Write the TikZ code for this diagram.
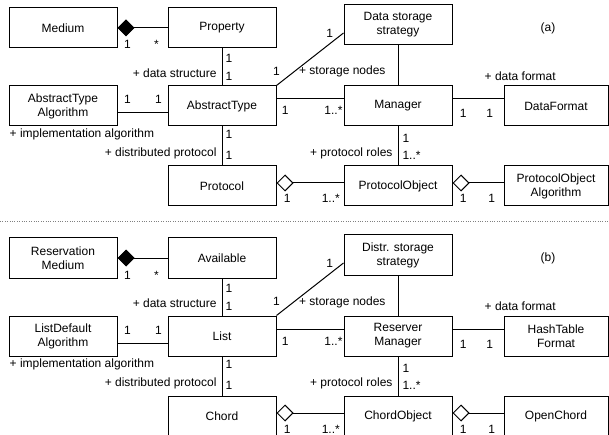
\documentclass[tikz,border=0pt]{standalone}
\usepackage{fontspec}
\setmainfont{Liberation Sans}
\usepackage{tikz}
\usetikzlibrary{arrows.meta}

\tikzset{
  cls/.style={draw, line width=1pt, minimum width=108pt, minimum height=40pt, align=center, inner sep=1pt},
  clsr/.style={cls, minimum width=104pt},
  assoc/.style={line width=1pt},
  comp/.style={assoc, {Diamond[length=17pt,width=17pt]}-},
  aggr/.style={assoc, {Diamond[open,length=17pt,width=17pt]}-},
  mult/.style={inner sep=0pt, text height=9pt, text depth=0pt},
  role/.style={inner sep=0pt},
}

\begin{document}
\begin{tikzpicture}[x=1pt, y=-1pt, font=\fontsize{12}{14}\selectfont]
\useasboundingbox (0,0) rectangle (609,435);
\clip (0,0) rectangle (609,435);

% part (a)
\node[cls] (medium-a) at (63,28) {Medium};
\node[cls] (property-a) at (222,28) {Property};
\node[cls] (storage-a) at (398,25) {Data storage\\strategy};
\node[cls] (algo-a) at (63,106) {AbstractType\\Algorithm};
\node[cls] (type-a) at (222,106) {AbstractType};
\node[cls] (manager-a) at (398,106) {Manager};
\node[clsr] (format-a) at (556,106) {DataFormat};
\node[cls] (protocol-a) at (222,186) {Protocol};
\node[cls] (pobject-a) at (398,186) {ProtocolObject};
\node[clsr] (palgo-a) at (556,186) {ProtocolObject\\Algorithm};
\node (tag-a) at (548,28) {(a)};

\draw[comp] (medium-a.east) -- (property-a.west)
  node[mult, pos=0.2, below=11.5pt] {1} node[mult, pos=0.78, below=11.5pt] {*};
\draw[assoc] (property-a.south) -- (type-a.north)
  node[mult, pos=0.26, right=3pt] {1} node[mult, pos=0.74, right=3pt] {1}
  node[role, pos=0.66, left=5pt] {+ data structure};
\draw[assoc] ([yshift=-7pt]algo-a.east) -- ([yshift=-7pt]type-a.west)
  node[mult, pos=0.2, above=8.5pt] {1} node[mult, pos=0.82, above=8.5pt] {1};
\node[role, anchor=west] (impl-a) at ([shift={(1pt,-8pt)}]algo-a.south west) {+ implementation algorithm};
\draw[assoc] ([yshift=7pt]type-a.east) -- ([yshift=7pt]manager-a.west)
  node[mult, pos=0.13, below=6.5pt] {1} node[mult, pos=0.85, below=6.5pt] {1..*};
\draw[assoc] (type-a.north east) -- ([yshift=-8pt]storage-a.west)
  node[mult, pos=0, above=9.5pt] {1} node[mult, pos=1, left=10pt] {1};
\draw[assoc] (storage-a.south) -- (manager-a.north)
  node[role, pos=0.66, left=12pt] {+ storage nodes};
\draw[assoc] ([yshift=7pt]manager-a.east) -- ([yshift=7pt]format-a.west)
  node[mult, pos=0.21, below=9.5pt] {1} node[mult, pos=0.73, below=9.5pt] {1};
\node[role, anchor=west] (dfrole-a) at ([shift={(-19pt,9pt)}]format-a.north west) {+ data format};
\draw[assoc] (type-a.south) -- (protocol-a.north)
  node[mult, pos=0.2, right=3pt] {1} node[mult, pos=0.72, right=3pt] {1}
  node[role, pos=0.68, left=5pt] {+ distributed protocol};
\draw[assoc] (manager-a.south) -- (pobject-a.north)
  node[mult, pos=0.3, right=4pt] {1} node[mult, pos=0.72, right=4pt] {1..*}
  node[role, pos=0.7, left=5pt] {+ protocol roles};
\draw[aggr] ([yshift=3pt]protocol-a.east) -- ([yshift=3pt]pobject-a.west)
  node[mult, pos=0.16, below=10.5pt] {1} node[mult, pos=0.81, below=10.5pt] {1..*};
\draw[aggr] ([yshift=3pt]pobject-a.east) -- ([yshift=3pt]palgo-a.west)
  node[mult, pos=0.21, below=10.5pt] {1} node[mult, pos=0.77, below=10.5pt] {1};

\draw[dotted, gray] (0,221) -- (609,221);

% part (b)
\begin{scope}[yshift=-230pt]
\node[cls] (medium-b) at (63,28) {Reservation\\Medium};
\node[cls] (property-b) at (222,28) {Available};
\node[cls] (storage-b) at (398,25) {Distr. storage\\strategy};
\node[cls] (algo-b) at (63,106) {ListDefault\\Algorithm};
\node[cls] (type-b) at (222,106) {List};
\node[cls] (manager-b) at (398,106) {Reserver\\Manager};
\node[clsr] (format-b) at (556,106) {HashTable\\Format};
\node[cls] (protocol-b) at (222,186) {Chord};
\node[cls] (pobject-b) at (398,186) {ChordObject};
\node[clsr] (palgo-b) at (556,186) {OpenChord};
\node (tag-b) at (548,28) {(b)};
\end{scope}

\draw[comp] (medium-b.east) -- (property-b.west)
  node[mult, pos=0.2, below=11.5pt] {1} node[mult, pos=0.78, below=11.5pt] {*};
\draw[assoc] (property-b.south) -- (type-b.north)
  node[mult, pos=0.26, right=3pt] {1} node[mult, pos=0.74, right=3pt] {1}
  node[role, pos=0.66, left=5pt] {+ data structure};
\draw[assoc] ([yshift=-7pt]algo-b.east) -- ([yshift=-7pt]type-b.west)
  node[mult, pos=0.2, above=8.5pt] {1} node[mult, pos=0.82, above=8.5pt] {1};
\node[role, anchor=west] (impl-b) at ([shift={(1pt,-8pt)}]algo-b.south west) {+ implementation algorithm};
\draw[assoc] ([yshift=7pt]type-b.east) -- ([yshift=7pt]manager-b.west)
  node[mult, pos=0.13, below=6.5pt] {1} node[mult, pos=0.85, below=6.5pt] {1..*};
\draw[assoc] (type-b.north east) -- ([yshift=-8pt]storage-b.west)
  node[mult, pos=0, above=9.5pt] {1} node[mult, pos=1, left=10pt] {1};
\draw[assoc] (storage-b.south) -- (manager-b.north)
  node[role, pos=0.66, left=12pt] {+ storage nodes};
\draw[assoc] ([yshift=7pt]manager-b.east) -- ([yshift=7pt]format-b.west)
  node[mult, pos=0.21, below=9.5pt] {1} node[mult, pos=0.73, below=9.5pt] {1};
\node[role, anchor=west] (dfrole-b) at ([shift={(-19pt,9pt)}]format-b.north west) {+ data format};
\draw[assoc] (type-b.south) -- (protocol-b.north)
  node[mult, pos=0.2, right=3pt] {1} node[mult, pos=0.72, right=3pt] {1}
  node[role, pos=0.68, left=5pt] {+ distributed protocol};
\draw[assoc] (manager-b.south) -- (pobject-b.north)
  node[mult, pos=0.3, right=4pt] {1} node[mult, pos=0.72, right=4pt] {1..*}
  node[role, pos=0.7, left=5pt] {+ protocol roles};
\draw[aggr] ([yshift=3pt]protocol-b.east) -- ([yshift=3pt]pobject-b.west)
  node[mult, pos=0.16, below=10.5pt] {1} node[mult, pos=0.81, below=10.5pt] {1..*};
\draw[aggr] ([yshift=3pt]pobject-b.east) -- ([yshift=3pt]palgo-b.west)
  node[mult, pos=0.21, below=10.5pt] {1} node[mult, pos=0.77, below=10.5pt] {1};
\end{tikzpicture}
\end{document}
